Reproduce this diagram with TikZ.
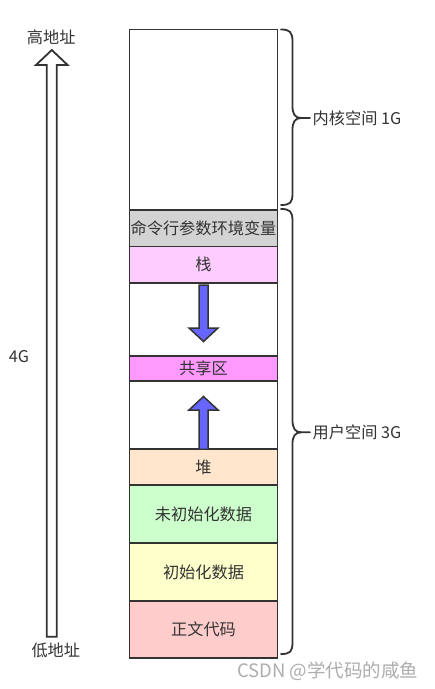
\documentclass[tikz,border=0pt]{standalone}
\usepackage{fontspec}
\setmainfont{Noto Sans CJK SC}
\newfontfamily\wmfont{Noto Sans CJK SC}
\begin{document}
\begin{tikzpicture}[x=1pt,y=-1pt,
  region/.style={draw=black!80, line width=1.8pt, minimum width=148pt, inner sep=0pt, outer sep=0pt, text=black!80, font=\fontsize{16.2}{17}\selectfont, anchor=center},
  blockarrow/.style={draw=black!80, line width=1.5pt, fill=arrowblue, line join=miter},
  bigarrow/.style={draw=black!80, line width=1.8pt, fill=white, line join=miter},
  bracepath/.style={draw=black!80, line width=1.8pt, line cap=round},
  label/.style={text=black!80, font=\fontsize{16.2}{17}\selectfont, inner sep=0pt}
]
\definecolor{cmdgray}{HTML}{D3D3D3}
\definecolor{stackpink}{HTML}{FFCCFF}
\definecolor{sharedpink}{HTML}{FF99FF}
\definecolor{heappeach}{HTML}{FFE6CC}
\definecolor{bssgreen}{HTML}{CCFFCC}
\definecolor{datayellow}{HTML}{FFFFCC}
\definecolor{textred}{HTML}{FFCCCC}
\definecolor{arrowblue}{HTML}{6666FF}
\useasboundingbox (0,0) rectangle (435,689);
\fill[white] (0,0) rectangle (435,689);

% memory column
\node[region, minimum height=180.5pt] (kernel) at (203.5,119.75) {};
\node[region, minimum height=36.5pt, fill=cmdgray] (cmd) at (203.5,228.25) {命令行参数环境变量};
\node[region, minimum height=36.2pt, fill=stackpink] (stack) at (203.5,264.6) {栈};
\node[region, minimum height=73.3pt] (gapa) at (203.5,319.35) {};
\node[region, minimum height=25pt, fill=sharedpink] (shared) at (203.5,368.5) {共享区};
\node[region, minimum height=68.3pt] (gapb) at (203.5,415.15) {};
\node[region, minimum height=35.7pt, fill=heappeach] (heap) at (203.5,467.15) {堆};
\node[region, minimum height=58.3pt, fill=bssgreen] (bss) at (203.5,514.15) {未初始化数据};
\node[region, minimum height=57.4pt, fill=datayellow] (data) at (203.5,572) {初始化数据};
\node[region, minimum height=57.6pt, fill=textred] (code) at (203.5,629.5) {正文代码};

% stack grows down
\draw[blockarrow] (199,285) -- (208,285) -- (208,328) -- (218,328) -- (203.5,341.5) -- (189,328) -- (199,328) -- cycle;
% heap grows up
\draw[blockarrow] (199,448.5) -- (199,410) -- (189,410) -- (203.5,396.5) -- (218,410) -- (208,410) -- (208,448.5);

% big address arrow
\draw[bigarrow] (46.7,636.7) -- (46.7,65) -- (36,65) -- (51.8,50) -- (67.6,65) -- (56.8,65) -- (56.8,636.7) -- cycle;
\node[label] (high) at (51.3,37.5) {高地址};
\node[label] (low) at (55.8,650.7) {低地址};
\node[label] (fourg) at (19,357) {4G};

% braces
\coordinate (kb) at (310,118);
\draw[bracepath] (281,29.5) .. controls (290,29.5) and (292.5,32) .. (292.5,42) -- (292.5,106)
  .. controls (292.5,114) and (295,118) .. (301,118) -- (kb);
\draw[bracepath] (301,118) .. controls (295,118) and (292.5,122) .. (292.5,130) -- (292.5,193)
  .. controls (292.5,203) and (290,205) .. (281,205);
\node[label, anchor=west] (klabel) at (312.5,118) {内核空间 1G};

\coordinate (ub) at (310,432.3);
\draw[bracepath] (281,209) .. controls (290,209) and (292.5,211.5) .. (292.5,221) -- (292.5,420)
  .. controls (292.5,428) and (295,432.3) .. (301,432.3) -- (ub);
\draw[bracepath] (301,432.3) .. controls (295,432.3) and (292.5,436.5) .. (292.5,444) -- (292.5,642)
  .. controls (292.5,652) and (290,654) .. (281,654);
\node[label, anchor=west] (ulabel) at (312.5,432.3) {用户空间 3G};

% watermark
\node[inner sep=0pt, anchor=east, text=black!32, font=\wmfont\fontsize{18.5}{19}\selectfont] (wm) at (418.5,671.7) {CSDN @学代码的咸鱼};
\end{tikzpicture}
\end{document}
